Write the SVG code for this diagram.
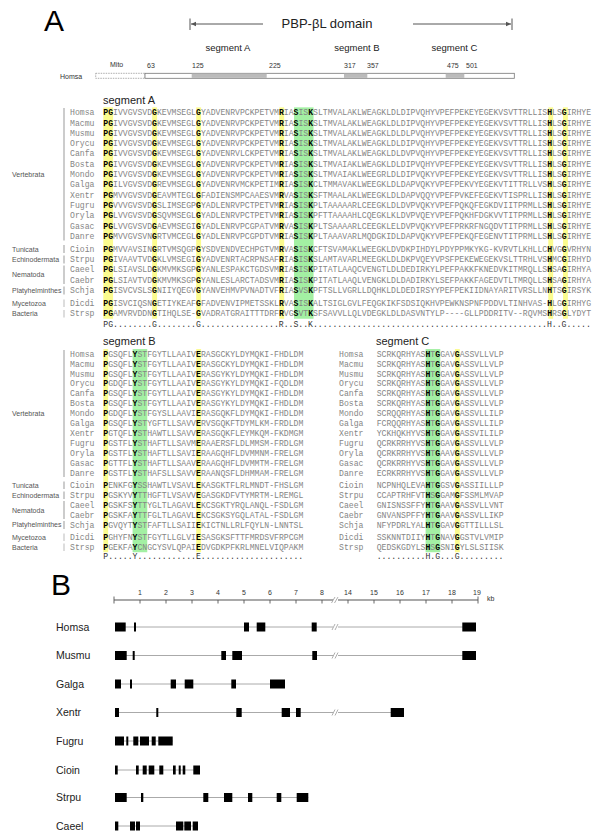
<svg xmlns="http://www.w3.org/2000/svg" width="600" height="840" viewBox="0 0 600 840">
<defs>
<style>
.s{font-family:"Liberation Mono","Courier New",monospace;font-size:8.15px;fill:#858585}
.b{font-weight:bold;fill:#000}
.sp{font-family:"Liberation Mono","Courier New",monospace;font-size:8.15px;fill:#858585}
.cs{font-family:"Liberation Mono","Courier New",monospace;font-size:8.15px;fill:#333}
.gl{font-family:"Liberation Sans",Arial,sans-serif;font-size:7px;fill:#555}
.seg{font-family:"Liberation Sans",Arial,sans-serif;font-size:11px;fill:#222}
.hseg{font-family:"Liberation Sans",Arial,sans-serif;font-size:9.5px;fill:#222;text-anchor:middle}
.num{font-family:"Liberation Sans",Arial,sans-serif;font-size:7px;fill:#333}
.big{font-family:"Liberation Sans",Arial,sans-serif;font-size:30px;fill:#000}
.hy{fill:#fbfb8e}
.hg{fill:#a3f0a3}
.bar{stroke:#999;stroke-width:1}
.bar2{stroke:#bbb;stroke-width:1}
.ex{fill:#000}
.in{stroke:#aaa;stroke-width:1;fill:none}
.brk{stroke:#999;stroke-width:0.8;fill:none}
.gn{font-family:"Liberation Sans",Arial,sans-serif;font-size:10.5px;fill:#222}
.rn{font-family:"Liberation Sans",Arial,sans-serif;font-size:7px;fill:#333;text-anchor:middle}
.ax{stroke:#555;stroke-width:1.2;fill:none}
.arr{stroke:#555;stroke-width:1;fill:none}
</style>
<marker id="ah" markerWidth="6" markerHeight="6" refX="5" refY="3" orient="auto" markerUnits="userSpaceOnUse">
<path d="M0,0.8 L5,3 L0,5.2 Z" fill="#555"/>
</marker>
</defs>
<rect width="600" height="840" fill="#fff"/>

<!-- ===== Part A header ===== -->
<g id="header">
<text class="big" x="44" y="31">A</text>
<text x="327" y="28" font-family="Liberation Sans, Arial, sans-serif" font-size="13" fill="#222" text-anchor="middle">PBP-βL domain</text>
<text class="hseg" x="228" y="51">segment A</text>
<text class="hseg" x="357" y="51">segment B</text>
<text class="hseg" x="454.5" y="51">segment C</text>
<text class="num" x="110" y="67">Mito</text>
<text class="num" x="147" y="68">63</text>
<text class="num" x="192" y="68">125</text>
<text class="num" x="269" y="68">225</text>
<text class="num" x="344" y="68">317</text>
<text class="num" x="367" y="68">357</text>
<text class="num" x="447" y="68">475</text>
<text class="num" x="466" y="68">501</text>
<text class="num" x="60" y="78.5">Homsa</text>
<rect x="95.7" y="73.3" width="49.3" height="5" fill="#fff" stroke="#999" stroke-width="0.8" stroke-dasharray="1.5,1"/>
<rect x="145" y="73.3" width="369.3" height="5" fill="#fff" stroke="#777" stroke-width="0.8"/>
<rect x="191.7" y="73.7" width="75" height="4.2" fill="#bbb"/>
<rect x="344" y="73.7" width="23.3" height="4.2" fill="#bbb"/>
<rect x="445.7" y="73.7" width="18.6" height="4.2" fill="#bbb"/>
</g>

<g id="connectors">
<line class="arr" x1="190" y1="18.5" x2="190" y2="30"/>
<line class="arr" x1="263" y1="24" x2="191" y2="24" marker-end="url(#ah)"/>
<line class="arr" x1="512" y1="18.5" x2="512" y2="30"/>
<line class="arr" x1="413" y1="24" x2="511" y2="24" marker-end="url(#ah)"/>
</g>

<!-- ===== Segment A ===== -->
<g id="segA">
<text class="seg" x="103" y="104">segment A</text>
<rect class="hy" x="103.3" y="107.35" width="9.78" height="211.4"/>
<rect class="hy" x="152.2" y="107.35" width="4.89" height="211.4"/>
<rect class="hy" x="196.2" y="107.35" width="4.89" height="211.4"/>
<rect class="hy" x="279.3" y="107.35" width="4.89" height="211.4"/>
<rect class="hg" x="294.0" y="107.35" width="19.56" height="211.4"/>
<rect class="hy" x="548.3" y="107.35" width="4.89" height="211.4"/>
<rect class="hy" x="563.0" y="107.35" width="4.89" height="211.4"/>

<line class="bar" x1="64" y1="108" x2="64" y2="240.5"/>
<line class="bar" x1="64" y1="245" x2="64" y2="253"/>
<line class="bar" x1="64" y1="255.5" x2="64" y2="263.5"/>
<line class="bar" x1="64" y1="265.5" x2="64" y2="284"/>
<line class="bar" x1="64" y1="286.5" x2="64" y2="294.5"/>
<line class="bar2" x1="64" y1="299.5" x2="64" y2="307"/>
<line class="bar2" x1="64" y1="310" x2="64" y2="317.5"/>
<text class="gl" x="12" y="176.8">Vertebrata</text>
<text class="gl" x="12" y="251.6">Tunicata</text>
<text class="gl" x="12" y="261.9">Echinodermata</text>
<text class="gl" x="12" y="277.3">Nematoda</text>
<text class="gl" x="12" y="292.8">Platyhelminthes</text>
<text class="gl" x="12" y="305.8">Mycetozoa</text>
<text class="gl" x="12" y="316.1">Bacteria</text>

<g id="A-Homsa"><text class="sp" x="70" y="115.2">Homsa</text><text class="s" x="103.3" y="115.2"><tspan class="b">PG</tspan>IVVGVSVD<tspan class="b">G</tspan>KEVMSEGL<tspan class="b">G</tspan>YADVENRVPCKPETVM<tspan class="b">R</tspan>IA<tspan class="b">S</tspan>IS<tspan class="b">K</tspan>SLTMVALAKLWEAGKLDLDIPVQHYVPEFPEKEYEGEKVSVTTRLLIS<tspan class="b">H</tspan>LS<tspan class="b">G</tspan>IRHYE</text></g>
<g id="A-Macmu"><text class="sp" x="70" y="125.5">Macmu</text><text class="s" x="103.3" y="125.5"><tspan class="b">PG</tspan>IVVGVSVD<tspan class="b">G</tspan>KEVMSEGL<tspan class="b">G</tspan>YADVENRVPCKPETVM<tspan class="b">R</tspan>IA<tspan class="b">S</tspan>IS<tspan class="b">K</tspan>SLTMVALAKLWEAGKLDLDIPVQHYVPEFPEKEYEGEKVSVTTRLLIS<tspan class="b">H</tspan>LS<tspan class="b">G</tspan>IRHYE</text></g>
<g id="A-Musmu"><text class="sp" x="70" y="135.8">Musmu</text><text class="s" x="103.3" y="135.8"><tspan class="b">PG</tspan>IVVGVSVD<tspan class="b">G</tspan>KEVMSEGL<tspan class="b">G</tspan>YADVENRVPCKPETVM<tspan class="b">R</tspan>IA<tspan class="b">S</tspan>IS<tspan class="b">K</tspan>SLTMVALAKLWEAGKLDLDLPVQHYVPEFPEKEYEGEKVSVTTRLLIS<tspan class="b">H</tspan>LS<tspan class="b">G</tspan>IRHYE</text></g>
<g id="A-Orycu"><text class="sp" x="70" y="146.1">Orycu</text><text class="s" x="103.3" y="146.1"><tspan class="b">PG</tspan>IVVGVSVD<tspan class="b">G</tspan>KEVMSEGL<tspan class="b">G</tspan>YADVENRVPCKPETVM<tspan class="b">R</tspan>IA<tspan class="b">S</tspan>IS<tspan class="b">K</tspan>SLTMVALAKLWEAGKLDLDIPVQHYVPEFPEKEYEGEKVSVTTRLLIS<tspan class="b">H</tspan>LS<tspan class="b">G</tspan>IRHYE</text></g>
<g id="A-Canfa"><text class="sp" x="70" y="156.4">Canfa</text><text class="s" x="103.3" y="156.4"><tspan class="b">PG</tspan>IVVGVSVD<tspan class="b">G</tspan>KEVMSEGL<tspan class="b">G</tspan>YADVENRVLCKPETVM<tspan class="b">R</tspan>IA<tspan class="b">S</tspan>IS<tspan class="b">K</tspan>SLTMVALAKLWEAGKLDLDVPVQHYVPEFPEKEYEGEKVSVTTRLLIS<tspan class="b">H</tspan>LS<tspan class="b">G</tspan>IRHYE</text></g>
<g id="A-Bosta"><text class="sp" x="70" y="166.7">Bosta</text><text class="s" x="103.3" y="166.7"><tspan class="b">PG</tspan>IVVGVSVD<tspan class="b">G</tspan>KEVMSEGL<tspan class="b">G</tspan>YADVENRVPCKPETVM<tspan class="b">R</tspan>IA<tspan class="b">S</tspan>IS<tspan class="b">K</tspan>SLTMVAIAKLWEAGKLDLDIPVQHYVPEFPEKEYEGEKVSVTTRLLIS<tspan class="b">H</tspan>LS<tspan class="b">G</tspan>IRHYE</text></g>
<g id="A-Mondo"><text class="sp" x="70" y="177.0">Mondo</text><text class="s" x="103.3" y="177.0"><tspan class="b">PG</tspan>IVVGVSVD<tspan class="b">G</tspan>KEVMSEGL<tspan class="b">G</tspan>YADVENRVPCKPETVM<tspan class="b">R</tspan>IA<tspan class="b">S</tspan>IS<tspan class="b">K</tspan>SLTMVAIAKLWEEGRLDLDIPVQKYVPEFPEKEYEGEKVSVTTRLLIS<tspan class="b">H</tspan>LS<tspan class="b">G</tspan>IRHYE</text></g>
<g id="A-Galga"><text class="sp" x="70" y="187.3">Galga</text><text class="s" x="103.3" y="187.3"><tspan class="b">PG</tspan>ILVGVSVD<tspan class="b">G</tspan>REVMSEGL<tspan class="b">G</tspan>YADVENRVMCKPETIM<tspan class="b">R</tspan>IA<tspan class="b">S</tspan>IS<tspan class="b">K</tspan>CLTMMAVAKLWEEGKLDLDAPVQKYVPEFPEKVYEGEKVTITTRLLVS<tspan class="b">H</tspan>LS<tspan class="b">G</tspan>IRHYE</text></g>
<g id="A-Xentr"><text class="sp" x="70" y="197.6">Xentr</text><text class="s" x="103.3" y="197.6"><tspan class="b">PG</tspan>MVVGVSVD<tspan class="b">G</tspan>EAVMTEGL<tspan class="b">G</tspan>FADIENSMPCAAESVM<tspan class="b">R</tspan>VA<tspan class="b">S</tspan>IS<tspan class="b">K</tspan>SFTMAALAKLWEEGKLDLDAPVQQYVPEFPVKEFEGEKVTISPRLLIS<tspan class="b">H</tspan>LS<tspan class="b">G</tspan>IRHYE</text></g>
<g id="A-Fugru"><text class="sp" x="70" y="207.9">Fugru</text><text class="s" x="103.3" y="207.9"><tspan class="b">PG</tspan>VVVGVSVD<tspan class="b">G</tspan>SLIMSEGP<tspan class="b">G</tspan>YADLENRVPCTPETVM<tspan class="b">R</tspan>IA<tspan class="b">S</tspan>IS<tspan class="b">K</tspan>PLTAAAAARLCEEGKLDLDVPVQKYVPEFPQKQFEGKDVIITPRMLLS<tspan class="b">H</tspan>LS<tspan class="b">G</tspan>IRHYE</text></g>
<g id="A-Oryla"><text class="sp" x="70" y="218.2">Oryla</text><text class="s" x="103.3" y="218.2"><tspan class="b">PG</tspan>LVVGVSVD<tspan class="b">G</tspan>SQVMSEGL<tspan class="b">G</tspan>YADLENRVPCTPETVM<tspan class="b">R</tspan>IA<tspan class="b">S</tspan>IS<tspan class="b">K</tspan>PFTTAAAAHLCQEGKLKLDVPVQEYVPEFPQKHFDGKVVTITPRMLLS<tspan class="b">H</tspan>LS<tspan class="b">G</tspan>IRHYE</text></g>
<g id="A-Gasac"><text class="sp" x="70" y="228.5">Gasac</text><text class="s" x="103.3" y="228.5"><tspan class="b">PG</tspan>LVVGVSVD<tspan class="b">G</tspan>AEVMSEGI<tspan class="b">G</tspan>YADLENRVPCGPATVM<tspan class="b">R</tspan>VA<tspan class="b">S</tspan>IS<tspan class="b">K</tspan>PLTSAAAARLCEEGKLELDVPVQKYVPEFPRKRFNGQDVTITPRMLLS<tspan class="b">H</tspan>LS<tspan class="b">G</tspan>IRHYE</text></g>
<g id="A-Danre"><text class="sp" x="70" y="238.8">Danre</text><text class="s" x="103.3" y="238.8"><tspan class="b">PG</tspan>MVVGVSVN<tspan class="b">G</tspan>RTVMCEGL<tspan class="b">G</tspan>YADLENRVPCGPDTVM<tspan class="b">R</tspan>IA<tspan class="b">S</tspan>IS<tspan class="b">K</tspan>PLTAAAVARLMQDGKIDLDAPVQKYVPEFPEKQFEGENVTITPRMLLS<tspan class="b">H</tspan>LS<tspan class="b">G</tspan>IRHYE</text></g>
<g id="A-Cioin"><text class="sp" x="70" y="251.8">Cioin</text><text class="s" x="103.3" y="251.8"><tspan class="b">PG</tspan>MVVAVSIN<tspan class="b">G</tspan>RTVMSQGP<tspan class="b">G</tspan>YSDVENDVECHPGTVM<tspan class="b">R</tspan>VA<tspan class="b">S</tspan>IS<tspan class="b">K</tspan>CFTSVAMAKLWEEGKLDVDKPIHDYLPDYPPMKYKG-KVRVTLKHLLC<tspan class="b">H</tspan>VG<tspan class="b">G</tspan>VRHYN</text></g>
<g id="A-Strpu"><text class="sp" x="70" y="262.1">Strpu</text><text class="s" x="103.3" y="262.1"><tspan class="b">PG</tspan>IVAAVTVD<tspan class="b">G</tspan>KLVMSEGI<tspan class="b">G</tspan>YADVENRTACRPNSAF<tspan class="b">R</tspan>IA<tspan class="b">S</tspan>IS<tspan class="b">K</tspan>SLAMTAVARLMEEGKLDLDKPVQEYVPSFPEKEWEGEKVSLTTRHLVS<tspan class="b">H</tspan>MC<tspan class="b">G</tspan>IRHYD</text></g>
<g id="A-Caeel"><text class="sp" x="70" y="272.4">Caeel</text><text class="s" x="103.3" y="272.4"><tspan class="b">PG</tspan>LSIAVSLD<tspan class="b">G</tspan>KMVMKSGP<tspan class="b">G</tspan>YANLESPAKCTGDSVM<tspan class="b">R</tspan>IA<tspan class="b">S</tspan>IS<tspan class="b">K</tspan>PITATLAAQCVENGTLDLDEDIRKYLPEFPAKKFKNEDVKITMRQLLS<tspan class="b">H</tspan>SA<tspan class="b">G</tspan>IRHYA</text></g>
<g id="A-Caebr"><text class="sp" x="70" y="282.7">Caebr</text><text class="s" x="103.3" y="282.7"><tspan class="b">PG</tspan>LSIAVTVD<tspan class="b">G</tspan>KMVMKSGP<tspan class="b">G</tspan>YANLESLARCTADSVM<tspan class="b">R</tspan>IA<tspan class="b">S</tspan>IS<tspan class="b">K</tspan>PITATLAAQLVENGKLDLDADIRKYLSEFPAKKFAGEDVTLTMRQLLS<tspan class="b">H</tspan>SA<tspan class="b">G</tspan>IRHYA</text></g>
<g id="A-Schja"><text class="sp" x="70" y="293.0">Schja</text><text class="s" x="103.3" y="293.0"><tspan class="b">PG</tspan>ISVCVSLS<tspan class="b">G</tspan>NIIYQEGV<tspan class="b">G</tspan>YANVEHMVPVNADTVF<tspan class="b">R</tspan>IA<tspan class="b">S</tspan>VS<tspan class="b">K</tspan>PFTSLLVGRLLDQHKLDLDEDIRSYYPEFPEKIIDNAYARITVRSLLN<tspan class="b">H</tspan>TS<tspan class="b">G</tspan>IRSYK</text></g>
<g id="A-Dicdi"><text class="sp" x="70" y="306.0">Dicdi</text><text class="s" x="103.3" y="306.0"><tspan class="b">PG</tspan>ISVCIQSN<tspan class="b">G</tspan>ETIYKEAF<tspan class="b">G</tspan>FADVENVIPMETSSKL<tspan class="b">R</tspan>VA<tspan class="b">S</tspan>IS<tspan class="b">K</tspan>ALTSIGLGVLFEQGKIKFSDSIQKHVPEWKNSPNFPDDVLTINHVAS-<tspan class="b">H</tspan>LG<tspan class="b">G</tspan>IRHYG</text></g>
<g id="A-Strsp"><text class="sp" x="70" y="316.3">Strsp</text><text class="s" x="103.3" y="316.3"><tspan class="b">PG</tspan>AMVRVDDN<tspan class="b">G</tspan>TIHQLSE-<tspan class="b">G</tspan>VADRATGRAITTTDRF<tspan class="b">R</tspan>VG<tspan class="b">S</tspan>VT<tspan class="b">K</tspan>SFSAVVLLQLVDEGKLDLDASVNTYLP----GLLPDDRITV--RQVMS<tspan class="b">H</tspan>RS<tspan class="b">G</tspan>LYDYT</text></g>
<text class="cs" x="103.3" y="326.6">PG........G........G................R..S..K................................................H..G.....</text>
</g>

<!-- ===== Segment B ===== -->
<g id="segB">
<text class="seg" x="103" y="345">segment B</text>
<rect class="hy" x="103.3" y="349.05" width="4.89" height="203.2"/>
<rect class="hg" x="132.6" y="349.05" width="14.67" height="203.2"/>
<rect class="hy" x="196.2" y="349.05" width="4.89" height="203.2"/>

<line class="bar" x1="64" y1="350" x2="64" y2="477"/>
<line class="bar" x1="64" y1="481.5" x2="64" y2="489"/>
<line class="bar" x1="64" y1="491.5" x2="64" y2="499"/>
<line class="bar" x1="64" y1="501" x2="64" y2="519"/>
<line class="bar" x1="64" y1="521" x2="64" y2="529"/>
<line class="bar2" x1="64" y1="533.5" x2="64" y2="541"/>
<line class="bar2" x1="64" y1="543.5" x2="64" y2="551"/>
<text class="gl" x="12" y="415.9">Vertebrata</text>
<text class="gl" x="12" y="487.8">Tunicata</text>
<text class="gl" x="12" y="497.7">Echinodermata</text>
<text class="gl" x="12" y="512.5">Nematoda</text>
<text class="gl" x="12" y="527.4">Platyhelminthes</text>
<text class="gl" x="12" y="539.9">Mycetozoa</text>
<text class="gl" x="12" y="549.8">Bacteria</text>

<g id="B-Homsa"><text class="sp" x="70" y="356.7">Homsa</text><text class="s" x="103.3" y="356.7"><tspan class="b">P</tspan>GSQFL<tspan class="b">Y</tspan>STFGYTLLAAIV<tspan class="b">E</tspan>RASGCKYLDYMQKI-FHDLDM</text></g>
<g id="B-Macmu"><text class="sp" x="70" y="366.6">Macmu</text><text class="s" x="103.3" y="366.6"><tspan class="b">P</tspan>GSQFL<tspan class="b">Y</tspan>STFGYTLLAAIV<tspan class="b">E</tspan>RASGCKYLDYMQKI-FHDLDM</text></g>
<g id="B-Musmu"><text class="sp" x="70" y="376.5">Musmu</text><text class="s" x="103.3" y="376.5"><tspan class="b">P</tspan>GSQFL<tspan class="b">Y</tspan>STFGYTLLAAIV<tspan class="b">E</tspan>RASGYKYLDYMQKI-FHDLDM</text></g>
<g id="B-Orycu"><text class="sp" x="70" y="386.4">Orycu</text><text class="s" x="103.3" y="386.4"><tspan class="b">P</tspan>GDQFL<tspan class="b">Y</tspan>STFGYTLLAAIV<tspan class="b">E</tspan>RASGYKYLDYMQKI-FQDLDM</text></g>
<g id="B-Canfa"><text class="sp" x="70" y="396.3">Canfa</text><text class="s" x="103.3" y="396.3"><tspan class="b">P</tspan>GSQFL<tspan class="b">Y</tspan>STFGYTLLAAIV<tspan class="b">E</tspan>RASGYKYLDYMQKI-FHDLDM</text></g>
<g id="B-Bosta"><text class="sp" x="70" y="406.2">Bosta</text><text class="s" x="103.3" y="406.2"><tspan class="b">P</tspan>GSQFL<tspan class="b">Y</tspan>STFGYTLLAAIV<tspan class="b">E</tspan>RASGYKYLDYMQKI-FHDLDM</text></g>
<g id="B-Mondo"><text class="sp" x="70" y="416.1">Mondo</text><text class="s" x="103.3" y="416.1"><tspan class="b">P</tspan>GDQFL<tspan class="b">Y</tspan>STFGYSLLAAVI<tspan class="b">E</tspan>RASGQKFLDYMQKI-FHDLDM</text></g>
<g id="B-Galga"><text class="sp" x="70" y="426.0">Galga</text><text class="s" x="103.3" y="426.0"><tspan class="b">P</tspan>GSQFL<tspan class="b">Y</tspan>STYGFTLLSAVV<tspan class="b">E</tspan>RVSGQKFTDYMLKM-FRDLDM</text></g>
<g id="B-Xentr"><text class="sp" x="70" y="435.9">Xentr</text><text class="s" x="103.3" y="435.9"><tspan class="b">P</tspan>GTQFL<tspan class="b">Y</tspan>STHAWTLLSAVV<tspan class="b">E</tspan>RASGQKFLEYMKQM-FKDMGM</text></g>
<g id="B-Fugru"><text class="sp" x="70" y="445.8">Fugru</text><text class="s" x="103.3" y="445.8"><tspan class="b">P</tspan>GSTFL<tspan class="b">Y</tspan>STHAFTLLSAVM<tspan class="b">E</tspan>RAAERSFLDLMMSM-FRDLGM</text></g>
<g id="B-Oryla"><text class="sp" x="70" y="455.7">Oryla</text><text class="s" x="103.3" y="455.7"><tspan class="b">P</tspan>GSTFL<tspan class="b">Y</tspan>STHAFTLLSAVI<tspan class="b">E</tspan>RAAGQHFLDVMMNM-FRELGM</text></g>
<g id="B-Gasac"><text class="sp" x="70" y="465.6">Gasac</text><text class="s" x="103.3" y="465.6"><tspan class="b">P</tspan>GTTFL<tspan class="b">Y</tspan>STHAFTLLSAAV<tspan class="b">E</tspan>RAAGQHFLDVMMTM-FRELGM</text></g>
<g id="B-Danre"><text class="sp" x="70" y="475.5">Danre</text><text class="s" x="103.3" y="475.5"><tspan class="b">P</tspan>GSTFL<tspan class="b">Y</tspan>STHAFSLLSAVV<tspan class="b">E</tspan>RAANQSFLDHMMAM-FRELGM</text></g>
<g id="B-Cioin"><text class="sp" x="70" y="488.0">Cioin</text><text class="s" x="103.3" y="488.0"><tspan class="b">P</tspan>ENKFG<tspan class="b">Y</tspan>SSHAWTLVSAVL<tspan class="b">E</tspan>KASGKTFLRLMNDT-FHSLGM</text></g>
<g id="B-Strpu"><text class="sp" x="70" y="497.9">Strpu</text><text class="s" x="103.3" y="497.9"><tspan class="b">P</tspan>GSKYV<tspan class="b">Y</tspan>TTHGFTLVSAVV<tspan class="b">E</tspan>GASGKDFVTYMRTM-LREMGL</text></g>
<g id="B-Caeel"><text class="sp" x="70" y="507.8">Caeel</text><text class="s" x="103.3" y="507.8"><tspan class="b">P</tspan>GSKFS<tspan class="b">Y</tspan>TTYGLTLAGAVL<tspan class="b">E</tspan>KCSGKTYRQLANQL-FSDLGM</text></g>
<g id="B-Caebr"><text class="sp" x="70" y="517.7">Caebr</text><text class="s" x="103.3" y="517.7"><tspan class="b">P</tspan>GSKFA<tspan class="b">Y</tspan>TTFGLTLAGAVL<tspan class="b">E</tspan>KCSGKSYGQLATAL-FSDLGM</text></g>
<g id="B-Schja"><text class="sp" x="70" y="527.6">Schja</text><text class="s" x="103.3" y="527.6"><tspan class="b">P</tspan>GVQYT<tspan class="b">Y</tspan>STFAFTLLSAII<tspan class="b">E</tspan>KICTNLLRLFQYLN-LNNTSL</text></g>
<g id="B-Dicdi"><text class="sp" x="70" y="540.1">Dicdi</text><text class="s" x="103.3" y="540.1"><tspan class="b">P</tspan>GHYFN<tspan class="b">Y</tspan>STFGYTLLGLVI<tspan class="b">E</tspan>SASGKSFTTFMRDSVFRPCGM</text></g>
<g id="B-Strsp"><text class="sp" x="70" y="550.0">Strsp</text><text class="s" x="103.3" y="550.0"><tspan class="b">P</tspan>GEKFA<tspan class="b">Y</tspan>CNGCYSVLQPAI<tspan class="b">E</tspan>DVGDKPFKRLMNELVIQPAKM</text></g>
<text class="cs" x="103.3" y="559.4">P.....Y............E.....................</text>
</g>

<!-- ===== Segment C ===== -->
<g id="segC">
<text class="seg" x="376" y="345">segment C</text>
<rect class="hg" x="425.6" y="349.05" width="14.67" height="203.2"/>
<rect class="hy" x="454.9" y="349.05" width="4.89" height="203.2"/>
<g id="C-Homsa"><text class="sp" x="339" y="356.7">Homsa</text><text class="s" x="376.7" y="356.7">SCRKQRHYAS<tspan class="b">H</tspan>T<tspan class="b">G</tspan>GAV<tspan class="b">G</tspan>ASSVLLVLP</text></g>
<g id="C-Macmu"><text class="sp" x="339" y="366.6">Macmu</text><text class="s" x="376.7" y="366.6">SCRKQRHYAS<tspan class="b">H</tspan>T<tspan class="b">G</tspan>GAV<tspan class="b">G</tspan>ASSVLLVLP</text></g>
<g id="C-Musmu"><text class="sp" x="339" y="376.5">Musmu</text><text class="s" x="376.7" y="376.5">SCRKQRHYAS<tspan class="b">H</tspan>T<tspan class="b">G</tspan>GAV<tspan class="b">G</tspan>ASSVLLVLP</text></g>
<g id="C-Orycu"><text class="sp" x="339" y="386.4">Orycu</text><text class="s" x="376.7" y="386.4">SCRKQRHYAS<tspan class="b">H</tspan>T<tspan class="b">G</tspan>GAV<tspan class="b">G</tspan>ASSVLLVLP</text></g>
<g id="C-Canfa"><text class="sp" x="339" y="396.3">Canfa</text><text class="s" x="376.7" y="396.3">SCRKQRHYAS<tspan class="b">H</tspan>T<tspan class="b">G</tspan>GAV<tspan class="b">G</tspan>ASSVLLVLP</text></g>
<g id="C-Bosta"><text class="sp" x="339" y="406.2">Bosta</text><text class="s" x="376.7" y="406.2">SCRKQRHYAS<tspan class="b">H</tspan>T<tspan class="b">G</tspan>GAV<tspan class="b">G</tspan>ASSVLLVLP</text></g>
<g id="C-Mondo"><text class="sp" x="339" y="416.1">Mondo</text><text class="s" x="376.7" y="416.1">SCRQQRHYAS<tspan class="b">H</tspan>T<tspan class="b">G</tspan>GAV<tspan class="b">G</tspan>ASSVLLILP</text></g>
<g id="C-Galga"><text class="sp" x="339" y="426.0">Galga</text><text class="s" x="376.7" y="426.0">FCRQQRHYAS<tspan class="b">H</tspan>T<tspan class="b">G</tspan>GAV<tspan class="b">G</tspan>ASSVLLILP</text></g>
<g id="C-Xentr"><text class="sp" x="339" y="435.9">Xentr</text><text class="s" x="376.7" y="435.9">YCKHQKHYVS<tspan class="b">H</tspan>T<tspan class="b">G</tspan>GAV<tspan class="b">G</tspan>ASSVILILP</text></g>
<g id="C-Fugru"><text class="sp" x="339" y="445.8">Fugru</text><text class="s" x="376.7" y="445.8">QCRKRRHYVS<tspan class="b">H</tspan>T<tspan class="b">G</tspan>GAV<tspan class="b">G</tspan>ASSVLLVLP</text></g>
<g id="C-Oryla"><text class="sp" x="339" y="455.7">Oryla</text><text class="s" x="376.7" y="455.7">QCRKRRHYVS<tspan class="b">H</tspan>T<tspan class="b">G</tspan>AAV<tspan class="b">G</tspan>ASSVLLVLP</text></g>
<g id="C-Gasac"><text class="sp" x="339" y="465.6">Gasac</text><text class="s" x="376.7" y="465.6">QCRKRRHYVS<tspan class="b">H</tspan>T<tspan class="b">G</tspan>GAV<tspan class="b">G</tspan>ASSVLLVLP</text></g>
<g id="C-Danre"><text class="sp" x="339" y="475.5">Danre</text><text class="s" x="376.7" y="475.5">ECRKRRHYVS<tspan class="b">H</tspan>T<tspan class="b">G</tspan>GAV<tspan class="b">G</tspan>ASSVLLVLP</text></g>
<g id="C-Cioin"><text class="sp" x="339" y="488.0">Cioin</text><text class="s" x="376.7" y="488.0">NCPNHQLEVA<tspan class="b">H</tspan>T<tspan class="b">G</tspan>GSV<tspan class="b">G</tspan>ASSIILLLP</text></g>
<g id="C-Strpu"><text class="sp" x="339" y="497.9">Strpu</text><text class="s" x="376.7" y="497.9">CCAPTRHFVT<tspan class="b">H</tspan>S<tspan class="b">G</tspan>GAM<tspan class="b">G</tspan>FSSMLMVAP</text></g>
<g id="C-Caeel"><text class="sp" x="339" y="507.8">Caeel</text><text class="s" x="376.7" y="507.8">GNISNSSFFY<tspan class="b">H</tspan>T<tspan class="b">G</tspan>AAV<tspan class="b">G</tspan>ASSVLLVNT</text></g>
<g id="C-Caebr"><text class="sp" x="339" y="517.7">Caebr</text><text class="s" x="376.7" y="517.7">GNVANSPFFY<tspan class="b">H</tspan>T<tspan class="b">G</tspan>AAV<tspan class="b">G</tspan>ASSVLLIKP</text></g>
<g id="C-Schja"><text class="sp" x="339" y="527.6">Schja</text><text class="s" x="376.7" y="527.6">NFYPDRLYAL<tspan class="b">H</tspan>T<tspan class="b">G</tspan>GAV<tspan class="b">G</tspan>GTTILLLSL</text></g>
<g id="C-Dicdi"><text class="sp" x="339" y="540.1">Dicdi</text><text class="s" x="376.7" y="540.1">SSKNNTDIIY<tspan class="b">H</tspan>T<tspan class="b">G</tspan>NAV<tspan class="b">G</tspan>GSTVLVMIP</text></g>
<g id="C-Strsp"><text class="sp" x="339" y="550.0">Strsp</text><text class="s" x="376.7" y="550.0">QEDSKGDYLS<tspan class="b">H</tspan>S<tspan class="b">G</tspan>SNI<tspan class="b">G</tspan>YLSLSIISK</text></g>
<text class="cs" x="376.7" y="559.4">..........H.G...G.........</text>
</g>

<!-- ===== Part B ===== -->
<g id="partB-ruler">
<text class="big" x="51" y="595">B</text>
<line class="ax" x1="114" y1="600" x2="333" y2="600"/>
<line class="ax" x1="338" y1="600" x2="478" y2="600"/>
<path class="brk" d="M331.5,603 L335,597 M334.5,603 L338,597"/>
<g stroke="#555" stroke-width="0.9">
<line x1="114" y1="596.5" x2="114" y2="603.5"/>
<line x1="140" y1="600" x2="140" y2="603.5"/>
<line x1="166" y1="600" x2="166" y2="603.5"/>
<line x1="192" y1="600" x2="192" y2="603.5"/>
<line x1="218" y1="600" x2="218" y2="603.5"/>
<line x1="244" y1="600" x2="244" y2="603.5"/>
<line x1="270" y1="600" x2="270" y2="603.5"/>
<line x1="296" y1="600" x2="296" y2="603.5"/>
<line x1="322" y1="600" x2="322" y2="603.5"/>
<line x1="348" y1="600" x2="348" y2="603.5"/>
<line x1="374" y1="600" x2="374" y2="603.5"/>
<line x1="400" y1="600" x2="400" y2="603.5"/>
<line x1="426" y1="600" x2="426" y2="603.5"/>
<line x1="452" y1="600" x2="452" y2="603.5"/>
<line x1="478" y1="596.5" x2="478" y2="603.5"/>
</g>
<text class="rn" x="140" y="595">1</text>
<text class="rn" x="166" y="595">2</text>
<text class="rn" x="192" y="595">3</text>
<text class="rn" x="218" y="595">4</text>
<text class="rn" x="244" y="595">5</text>
<text class="rn" x="270" y="595">6</text>
<text class="rn" x="296" y="595">7</text>
<text class="rn" x="322" y="595">8</text>
<text class="rn" x="348" y="595">14</text>
<text class="rn" x="374" y="595">15</text>
<text class="rn" x="400" y="595">16</text>
<text class="rn" x="426" y="595">17</text>
<text class="rn" x="452" y="595">18</text>
<text class="rn" x="477" y="595">19</text>
<text class="num" x="487" y="601">kb</text>
</g>

<g id="gene-Homsa">
<text class="gn" x="56" y="630.8">Homsa</text>
<line class="in" x1="115" y1="627" x2="333" y2="627"/>
<line class="in" x1="338" y1="627" x2="476" y2="627"/>
<path class="brk" d="M332,630 L335,624 M335,630 L338,624"/>
<rect class="ex" x="115" y="622.5" width="10.7" height="9"/>
<rect class="ex" x="134" y="622.5" width="2" height="9"/>
<rect class="ex" x="244" y="622.5" width="5" height="9"/>
<rect class="ex" x="256.7" y="622.5" width="8.6" height="9"/>
<rect class="ex" x="311.7" y="622.5" width="5" height="9"/>
<rect class="ex" x="462.3" y="622.5" width="13.7" height="9"/>
</g>
<g id="gene-Musmu">
<text class="gn" x="56" y="659.3">Musmu</text>
<line class="in" x1="115" y1="655.5" x2="333" y2="655.5"/>
<line class="in" x1="338" y1="655.5" x2="476" y2="655.5"/>
<path class="brk" d="M332,658.5 L335,652.5 M335,658.5 L338,652.5"/>
<rect class="ex" x="115" y="651" width="11.7" height="9"/>
<rect class="ex" x="132.7" y="651" width="2" height="9"/>
<rect class="ex" x="221.3" y="651" width="4.7" height="9"/>
<rect class="ex" x="232.3" y="651" width="9.7" height="9"/>
<rect class="ex" x="312.3" y="651" width="4.7" height="9"/>
<rect class="ex" x="462.3" y="651" width="13.7" height="9"/>
</g>
<g id="gene-Galga">
<text class="gn" x="56" y="688">Galga</text>
<line class="in" x1="115" y1="684" x2="285" y2="684"/>
<rect class="ex" x="115" y="679.5" width="6" height="9"/>
<rect class="ex" x="130" y="679.5" width="2" height="9"/>
<rect class="ex" x="170.7" y="679.5" width="5.3" height="9"/>
<rect class="ex" x="184.7" y="679.5" width="8.6" height="9"/>
<rect class="ex" x="231.3" y="679.5" width="4.7" height="9"/>
<rect class="ex" x="270" y="679.5" width="15" height="9"/>
</g>
<g id="gene-Xentr">
<text class="gn" x="56" y="716.3">Xentr</text>
<line class="in" x1="115" y1="712.5" x2="333" y2="712.5"/>
<line class="in" x1="338" y1="712.5" x2="404" y2="712.5"/>
<path class="brk" d="M332,715.5 L335,709.5 M335,715.5 L338,709.5"/>
<rect class="ex" x="115" y="708" width="4" height="9"/>
<rect class="ex" x="156.3" y="708" width="2" height="9"/>
<rect class="ex" x="236.3" y="708" width="5.4" height="9"/>
<rect class="ex" x="281.7" y="708" width="8.3" height="9"/>
<rect class="ex" x="296" y="708" width="4.7" height="9"/>
<rect class="ex" x="390.7" y="708" width="13.3" height="9"/>
</g>
<g id="gene-Fugru">
<text class="gn" x="56" y="744.8">Fugru</text>
<line class="in" x1="115" y1="741" x2="172.7" y2="741"/>
<rect class="ex" x="115" y="736.5" width="9" height="9"/>
<rect class="ex" x="126.3" y="736.5" width="2" height="9"/>
<rect class="ex" x="133.3" y="736.5" width="5" height="9"/>
<rect class="ex" x="140" y="736.5" width="9" height="9"/>
<rect class="ex" x="151.7" y="736.5" width="4" height="9"/>
<rect class="ex" x="158.3" y="736.5" width="14.4" height="9"/>
</g>
<g id="gene-Cioin">
<text class="gn" x="56" y="773.8">Cioin</text>
<line class="in" x1="115" y1="770" x2="200" y2="770"/>
<rect class="ex" x="115" y="765.5" width="2.7" height="9"/>
<rect class="ex" x="136" y="765.5" width="2.7" height="9"/>
<rect class="ex" x="142.7" y="765.5" width="4" height="9"/>
<rect class="ex" x="148.7" y="765.5" width="5.6" height="9"/>
<rect class="ex" x="159.3" y="765.5" width="4" height="9"/>
<rect class="ex" x="173" y="765.5" width="2.7" height="9"/>
<rect class="ex" x="178.7" y="765.5" width="2" height="9"/>
<rect class="ex" x="182.7" y="765.5" width="2.6" height="9"/>
<rect class="ex" x="193.3" y="765.5" width="6.7" height="9"/>
</g>
<g id="gene-Strpu">
<text class="gn" x="56" y="801.3">Strpu</text>
<line class="in" x1="115" y1="797.5" x2="308.3" y2="797.5"/>
<rect class="ex" x="115" y="793" width="11.7" height="9"/>
<rect class="ex" x="141" y="793" width="2.3" height="9"/>
<rect class="ex" x="203.3" y="793" width="5" height="9"/>
<rect class="ex" x="224" y="793" width="8.3" height="9"/>
<rect class="ex" x="248" y="793" width="4.3" height="9"/>
<rect class="ex" x="276.7" y="793" width="4.6" height="9"/>
<rect class="ex" x="296.7" y="793" width="11.6" height="9"/>
</g>
<g id="gene-Caeel">
<text class="gn" x="56" y="829.8">Caeel</text>
<line class="in" x1="115" y1="826" x2="198" y2="826"/>
<rect class="ex" x="115" y="821.5" width="3.3" height="9"/>
<rect class="ex" x="130" y="821.5" width="5" height="9"/>
<rect class="ex" x="136" y="821.5" width="4" height="9"/>
<rect class="ex" x="176" y="821.5" width="7.3" height="9"/>
<rect class="ex" x="184.3" y="821.5" width="6.7" height="9"/>
<rect class="ex" x="192.7" y="821.5" width="5.3" height="9"/>
</g>
</svg>
